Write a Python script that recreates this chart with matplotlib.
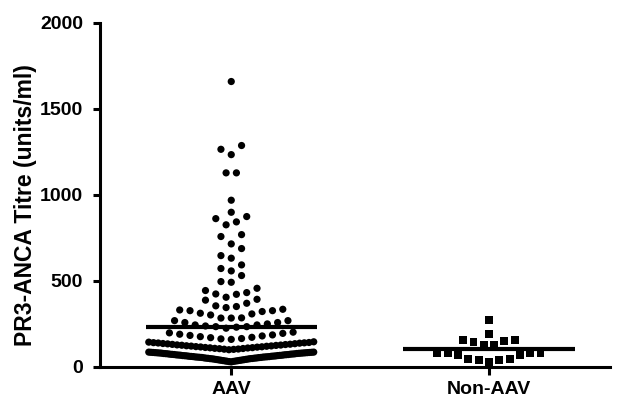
import matplotlib
matplotlib.use("Agg")
import matplotlib.pyplot as plt
import numpy as np

# PR3-ANCA titre (units/ml)
aav_titre = [
    29, 31, 32, 34, 35, 36, 38, 39, 40, 41,
    42, 43, 44, 45, 46, 47, 48, 49, 50, 51,
    51, 52, 53, 54, 55, 55, 56, 57, 58, 58,
    59, 60, 60, 61, 62, 62, 63, 64, 64, 65,
    66, 66, 67, 68, 68, 69, 70, 70, 71, 72,
    72, 73, 74, 74, 75, 76, 76, 77, 78, 78,
    79, 80, 80, 81, 81, 82, 82, 83, 83, 84,
    84, 85, 85, 86, 86, 33, 37, 48, 57,
    100, 102, 103, 104, 106, 107, 108, 110, 111, 112,
    113, 115, 116, 117, 118, 120, 121, 122, 123, 125,
    126, 127, 128, 130, 131, 132, 134, 135, 136, 138,
    139, 140, 141, 142, 144, 146,
    160, 163, 165, 170, 172, 176, 180, 183, 186, 190, 195, 198, 202,
    225, 231, 234, 234, 238, 244, 244, 250, 258, 258, 269, 269,
    284, 284, 285, 302, 308, 312, 322, 327, 327, 331, 335,
    345, 351, 355, 370, 388, 393,
    405, 422, 424, 432, 444, 457,
    492, 496, 531, 558, 572, 593, 632, 647, 688, 715, 758, 769,
    826, 843, 862, 874, 899, 969, 1128, 1128, 1234, 1265, 1287, 1659,
]
non_aav_titre = [
    31, 41, 41, 45, 45, 70, 70, 80, 80, 80, 83,
    128, 128, 145, 153, 157, 157, 192, 273,
]
groups = ["AAV", "Non-AAV"]


def swarm(values, center, bin_h=58, step=0.04, half_w=0.32):
    # Prism-style rows: points within one symbol height share a row,
    # lowest in the middle, spread out to both sides
    vals = sorted(values)
    xs, ys = [], []
    i = 0
    while i < len(vals):
        start = vals[i]
        row = []
        while i < len(vals) and vals[i] - start <= bin_h:
            row.append(vals[i])
            i += 1
        m = len(row)
        gap = step
        if m > 1 and (m - 1) * step > 2 * half_w:
            gap = 2 * half_w / (m - 1)
        offs = [(k - (m - 1) / 2) * gap for k in range(m)]
        offs.sort(key=lambda o: (abs(round(o, 6)), o))
        for v, o in zip(row, offs):
            xs.append(center + o)
            ys.append(v)
    return xs, ys


plt.rcParams['font.family'] = ['Liberation Sans', 'DejaVu Sans']
plt.rcParams['font.weight'] = 'bold'

fig = plt.figure(figsize=(6.2, 4.01), dpi=100)
ax = fig.add_axes([0.161, 0.085, 0.823, 0.858])

x1, y1 = swarm(aav_titre, 0)
ax.scatter(x1, y1, s=27, marker='o', color='black', edgecolors='none', zorder=2)
x2, y2 = swarm(non_aav_titre, 1)
ax.scatter(x2, y2, s=32, marker='s', color='black', edgecolors='none', zorder=2)

# mean lines
for i, data in enumerate([aav_titre, non_aav_titre]):
    m = np.mean(data)
    ax.plot([i - 0.332, i + 0.332], [m, m], color='black', lw=3, solid_capstyle='butt', zorder=3)

ax.set_xlim(-0.51, 1.47)
ax.set_ylim(0, 2000)
ax.set_yticks([0, 500, 1000, 1500, 2000])
ax.set_xticks([0, 1])
ax.set_xticklabels(groups, fontsize=14, fontweight='bold')
ax.set_ylabel('PR3-ANCA Titre (units/ml)', fontsize=16.5, fontweight='bold', labelpad=2)
ax.yaxis.label.set_y(0.471)

for s in ['top', 'right']:
    ax.spines[s].set_visible(False)
for s in ['left', 'bottom']:
    ax.spines[s].set_linewidth(2.2)
ax.tick_params(axis='y', length=5, width=2.2, pad=7, labelsize=14)
ax.tick_params(axis='x', length=6, width=2.2, pad=4)
for lab in ax.get_yticklabels():
    lab.set_fontweight('bold')

fig.savefig('out.png', dpi=100)
